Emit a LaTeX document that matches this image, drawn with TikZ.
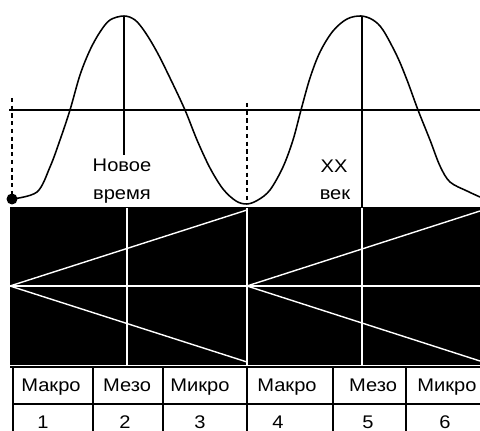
\documentclass[tikz,border=0pt]{standalone}
\usepackage{fontspec}
\setmainfont[FakeStretch=1.1]{Liberation Sans}
\usepackage{tikz}
\usetikzlibrary{positioning, calc}

\tikzset{
  blackline/.style={line width=1pt, black},
  whiteline/.style={line width=1pt, white},
  guide/.style={line width=1pt, black, dash pattern=on 3pt off 2.5pt},
  curveline/.style={line width=1.1pt, black, line join=round},
  lbl/.style={font=\fontsize{13}{15}\selectfont, anchor=base, inner sep=0pt}
}

\begin{document}
\begin{tikzpicture}[x=0.025cm, y=-0.025cm]
    \clip (0,0) rectangle (480,431);
    \fill[white] (0,0) rectangle (480,431);
    % === TOP: wave with axis ===
    \draw[blackline] (9,110) -- (480,110);
    \draw[guide] (12,98) -- (12,196);
    \draw[guide] (247,103) -- (247,203);
    \draw[blackline] (124,17) -- (124,155);
    \draw[blackline] (362,17) -- (362,207);
    \draw[curveline] plot[smooth, tension=0.55] coordinates {
        (12,199) (37,192) (50,167) (60,140) (70,110) (80,75) (90,50) (100,32)
        (110,20) (124,16) (135,20) (145,32) (157,52) (170,78) (185,110) (197,140)
        (210,168) (223,189) (236,201) (247,204)
        (258,200) (270,190) (283,167) (293,140) (301,110) (310,78) (320,52)
        (333,31) (347,19) (361,16) (373,20) (383,30) (397,56) (407,80) (418,110)
        (430,140) (440,166) (450,182) (467,191) (480,197)};
    \fill[black] (12,199) circle (5.5);
    \node[lbl] (nov1) at (122,172) {Новое};
    \node[lbl] (nov2) at (122,200) {время};
    \node[lbl] (xx1) at (334,173) {XX};
    \node[lbl] (xx2) at (335,200) {век};
    % === MIDDLE: black band with white lines ===
    \fill[black] (10,207) rectangle (480,365);
    \draw[whiteline] (10,286) -- (480,286);
    \foreach \x in {127, 247, 362} {
        \draw[whiteline] (\x,208) -- (\x,365);
    }
    \draw[whiteline] (247,210) -- (10,286) -- (247,362);
    \draw[whiteline] (480,211) -- (247,286) -- (480,361);
    % === BOTTOM: table ===
    \draw[blackline] (10,367) -- (480,367);
    \draw[blackline] (13,404) -- (480,404);
    \foreach \x in {13, 93, 163, 247, 333, 406} {
        \draw[blackline] (\x,367) -- (\x,431);
    }
    \foreach \x/\t/\n/\nx in {51/Макро/1/43, 127/Мезо/2/125, 200/Микро/3/200,
                             287/Макро/4/278, 373/Мезо/5/368, 447/Микро/6/445} {
        \node[lbl] (name\n) at (\x,392) {\t};
        \node[lbl] (num\n) at (\nx,429) {\n};
    }
\end{tikzpicture}
\end{document}
